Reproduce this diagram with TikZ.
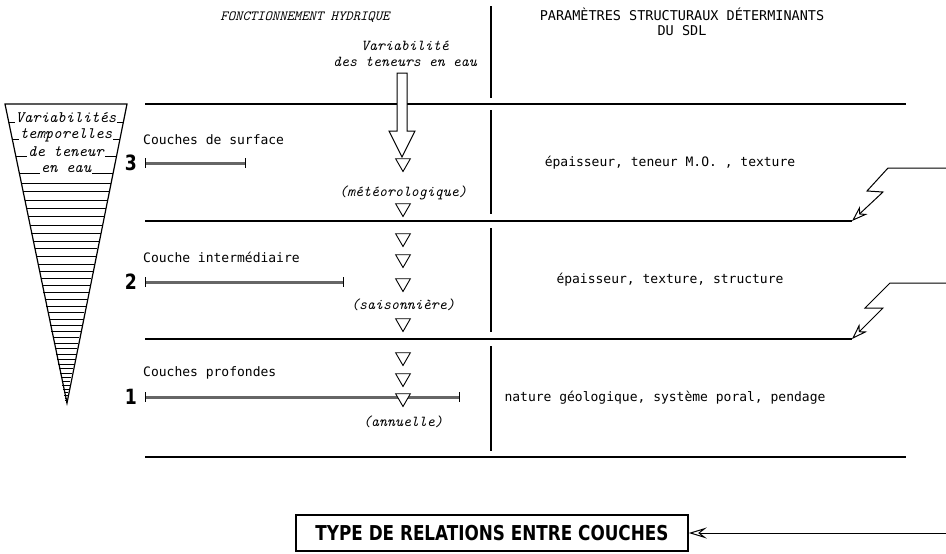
\documentclass[tikz,border=0pt]{standalone}
\usepackage{fontspec}
\usetikzlibrary{shapes.geometric,arrows.meta}
\newfontfamily\monosans{DejaVu Sans Mono}
\newfontfamily\boldcond[FakeStretch=0.82]{DejaVu Sans}

\tikzset{
  rule/.style={line width=1.5pt},
  layertext/.style={font=\monosans\fontsize{13}{15}\selectfont, anchor=west, inner sep=0pt},
  paramtext/.style={font=\monosans\fontsize{13}{15}\selectfont, inner sep=0pt},
  headtext/.style={font=\monosans\fontsize{13.5}{15}\selectfont, inner sep=0pt, align=center},
  regime/.style={font=\ttfamily\itshape\fontsize{15.2}{16}\selectfont, inner sep=0pt},
  coneword/.style={font=\ttfamily\itshape\fontsize{16}{17}\selectfont, inner sep=1pt, fill=white},
  flowtri/.style={draw, regular polygon, regular polygon sides=3, shape border rotate=180,
    minimum size=17pt, inner sep=0pt, line width=0.9pt, fill=white},
  depth/.style={font=\boldcond\bfseries\fontsize{21}{21}\selectfont, inner sep=0pt, anchor=east},
  bar/.style={line width=3pt, black!60},
  hatch/.style={line width=0.6pt},
  bolt/.style={line width=1pt, -{Stealth[open, length=16pt, width=11pt, inset=5pt]}}
}

\begin{document}
\begin{tikzpicture}[x=1pt, y=-1pt]
\useasboundingbox (0,0) rectangle (946,554);

% cone of variability
\foreach \yy in {122,139,156,173}{
  \pgfmathsetmacro{\ww}{0.204*(403-\yy)}
  \draw[hatch] (66-\ww,\yy) -- (66+\ww,\yy);
}
\foreach \k in {0,...,37}{
  \pgfmathsetmacro{\yy}{403-220*(1-\k/38)^1.5}
  \pgfmathsetmacro{\ww}{0.204*(403-\yy)}
  \draw[hatch] (66-\ww,\yy) -- (66+\ww,\yy);
}
\draw[line width=1.2pt] (5,104) coordinate (conel) -- (127,104) coordinate (coner) -- (67,403) coordinate (apex) -- cycle;
\node[coneword] (var1) at (66,118) {Variabilités};
\node[coneword] (var2) at (66,135) {temporelles};
\node[coneword] (var3) at (66,152) {de teneur};
\node[coneword] (var4) at (66,169) {en eau};

% headings
\node[regime, font=\ttfamily\itshape\fontsize{14}{15}\selectfont] (fonct) at (305,17) {FONCTIONNEMENT HYDRIQUE};
\node[headtext] (param) at (682,22) {PARAMÈTRES STRUCTURAUX DÉTERMINANTS\\DU SDL};
\node[regime, align=center] (variab) at (405,54) {Variabilité\\des teneurs en eau};

% horizontal rules
\draw[rule] (145,104) -- (906,104);
\draw[rule] (145,221) -- (852,221) coordinate (tip3);
\draw[rule] (145,339) -- (852,339) coordinate (tip2);
\draw[rule] (145,457) -- (906,457);

% vertical rule
\draw[rule] (491,6) -- (491,98);
\draw[rule] (491,110) -- (491,214);
\draw[rule] (491,228) -- (491,332);
\draw[rule] (491,346) -- (491,451);

% big hollow arrow
\draw[fill=white, line width=1pt] (397,73) -- (407,73) -- (407,131) -- (415,131)
  -- (402,157) -- (389,131) -- (397,131) -- cycle;

% layers
\node[layertext] (surf) at (143,140) {Couches de surface};
\node[layertext] (inter) at (143,257) {Couche intermédiaire};
\node[layertext] (prof) at (143,373) {Couches profondes};

\node[depth] (n3) at (137,163) {3};
\node[depth] (n2) at (137,282) {2};
\node[depth] (n1) at (137,397) {1};

\foreach \yb/\xe in {163/245, 282/343, 397/459}{
  \draw[bar] (145,\yb) -- (\xe,\yb);
  \draw[line width=0.8pt] (145,\yb-5) -- (145,\yb+5);
  \draw[line width=0.8pt] (\xe,\yb-5) -- (\xe,\yb+5);
}

% flow triangles
\node[flowtri] (t1) at (403,163) {};
\node[regime] (meteo) at (403,193) {(météorologique)};
\node[flowtri] (t2) at (403,208) {};
\node[flowtri] (t3) at (403,238) {};
\node[flowtri] (t4) at (403,259) {};
\node[flowtri] (t5) at (403,283) {};
\node[regime] (saison) at (403,305) {(saisonnière)};
\node[flowtri] (t6) at (403,323) {};
\node[flowtri] (t7) at (403,357) {};
\node[flowtri] (t8) at (403,378) {};
\node[flowtri] (t9) at (403,398) {};
\node[regime] (annuel) at (403,422) {(annuelle)};

% structural parameters
\node[paramtext] (p3) at (670,163) {épaisseur, teneur M.O. , texture};
\node[paramtext] (p2) at (670,280) {épaisseur, texture, structure};
\node[paramtext] (p1) at (665,398) {nature géologique, système poral, pendage};

% relations between layers
\coordinate (in3) at (946,168);
\coordinate (in2) at (946,283);
\draw[bolt] (in3) -- (888,168) -- (867,191) -- (883,192) -- (tip3);
\draw[bolt] (in2) -- (890,283) -- (865,308) -- (883,308) -- (tip2);

\node[draw, line width=1.6pt, minimum width=392pt, minimum height=36pt, inner sep=0pt,
  font=\boldcond\bfseries\fontsize{20.5}{20.5}\selectfont] (typebox) at (492,533) {TYPE DE RELATIONS ENTRE COUCHES};
\coordinate (typein) at (946,533);
\draw[line width=1pt, -{Stealth[open, length=18pt, width=11pt, inset=7pt]}] (typein) -- (typebox.east);
\end{tikzpicture}
\end{document}
